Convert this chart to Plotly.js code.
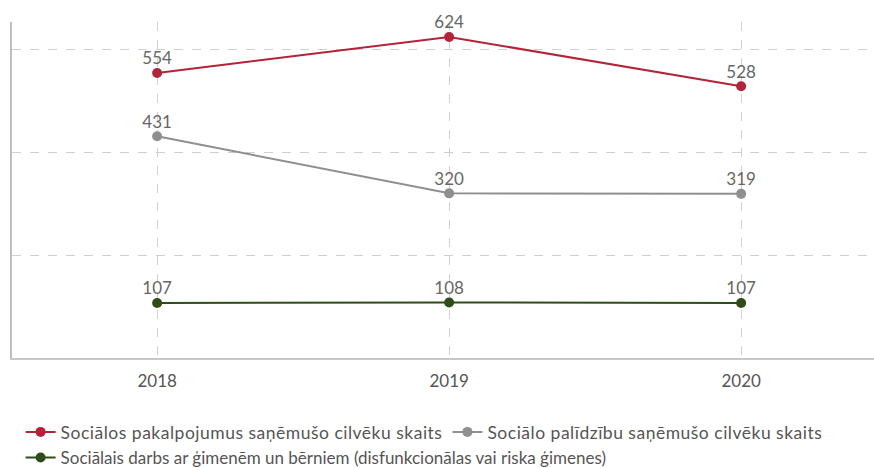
<!DOCTYPE html>
<html>
<head>
<meta charset="utf-8">
<script src="https://cdn.plot.ly/plotly-3.0.1.min.js"></script>
<style>
html,body{margin:0;padding:0;background:#fff;}
#chart{width:874px;height:468px;}
.legendtext{letter-spacing:0.5px;}
.textpoint text{transform:translateY(3px);}
</style>
</head>
<body>
<div id="chart"></div>
<script>
const years = ["2018", "2019", "2020"];
const seriesNames = [
  "Sociālos pakalpojumus saņēmušo cilvēku skaits",
  "Sociālo palīdzību saņēmušo cilvēku skaits",
  "Sociālais darbs ar ģimenēm un bērniem (disfunkcionālas vai riska ģimenes)"
];
const servicesValues = [554, 624, 528];
const assistanceValues = [431, 320, 319];
const familyWorkValues = [107, 108, 107];
const colors = ["#b3243a", "#8f8f8f", "#2e4d19"];

function mk(name, vals, color, legend) {
  return {
    x: years, y: vals, name: name, type: "scatter",
    mode: "lines+markers+text",
    text: vals.map(String), textposition: "top center",
    textfont: {family: "Lato, sans-serif", size: 17, color: "#666"},
    line: {color: color, width: 2},
    marker: {color: color, size: 10},
    legend: legend,
    cliponaxis: false
  };
}
const data = [
  mk(seriesNames[0], servicesValues, colors[0], "legend"),
  mk(seriesNames[1], assistanceValues, colors[1], "legend"),
  mk(seriesNames[2], familyWorkValues, colors[2], "legend2")
];
const layout = {
  width: 874, height: 468,
  margin: {l: 12, r: 0, t: 22, b: 110, autoexpand: false},
  paper_bgcolor: "#fff", plot_bgcolor: "#fff",
  font: {family: "Lato, sans-serif", color: "#555"},
  showlegend: true,
  xaxis: {
    type: "category", range: [-0.497, 2.455],
    showgrid: true, gridcolor: "#d0d0d0", griddash: "dash", gridwidth: 1,
    showline: true, linecolor: "#c8c8c8", linewidth: 2,
    ticks: "", tickfont: {size: 17, color: "#555"}, ticklabelstandoff: 7,
    zeroline: false, fixedrange: true
  },
  yaxis: {
    range: [0, 653],
    tickvals: [200, 400, 600], showticklabels: false,
    showgrid: true, gridcolor: "#d0d0d0", griddash: "dash", gridwidth: 1,
    showline: true, linecolor: "#bdbdbd", linewidth: 2,
    ticks: "", zeroline: false, fixedrange: true
  },
  legend: {
    orientation: "h", x: 0.01, xanchor: "left",
    font: {size: 17.5, color: "#555"}, bgcolor: "rgba(0,0,0,0)"
  },
  legend2: {
    orientation: "h", x: 0.01, xanchor: "left",
    font: {size: 17, color: "#555"}, bgcolor: "rgba(0,0,0,0)"
  }
};
const plotH = 468 - 22 - 110;
function paperY(px) { return (358 - px) / plotH; }
layout.legend.y = paperY(432); layout.legend.yanchor = "middle";
layout.legend2.y = paperY(458); layout.legend2.yanchor = "middle";
Plotly.newPlot("chart", data, layout, {displayModeBar: false, staticPlot: true}).then(function () {
  document.querySelectorAll("#chart text.legendtext").forEach(function (t) {
    if (t.textContent === seriesNames[2]) t.style.letterSpacing = "1.05px";
  });
});
</script>
</body>
</html>
